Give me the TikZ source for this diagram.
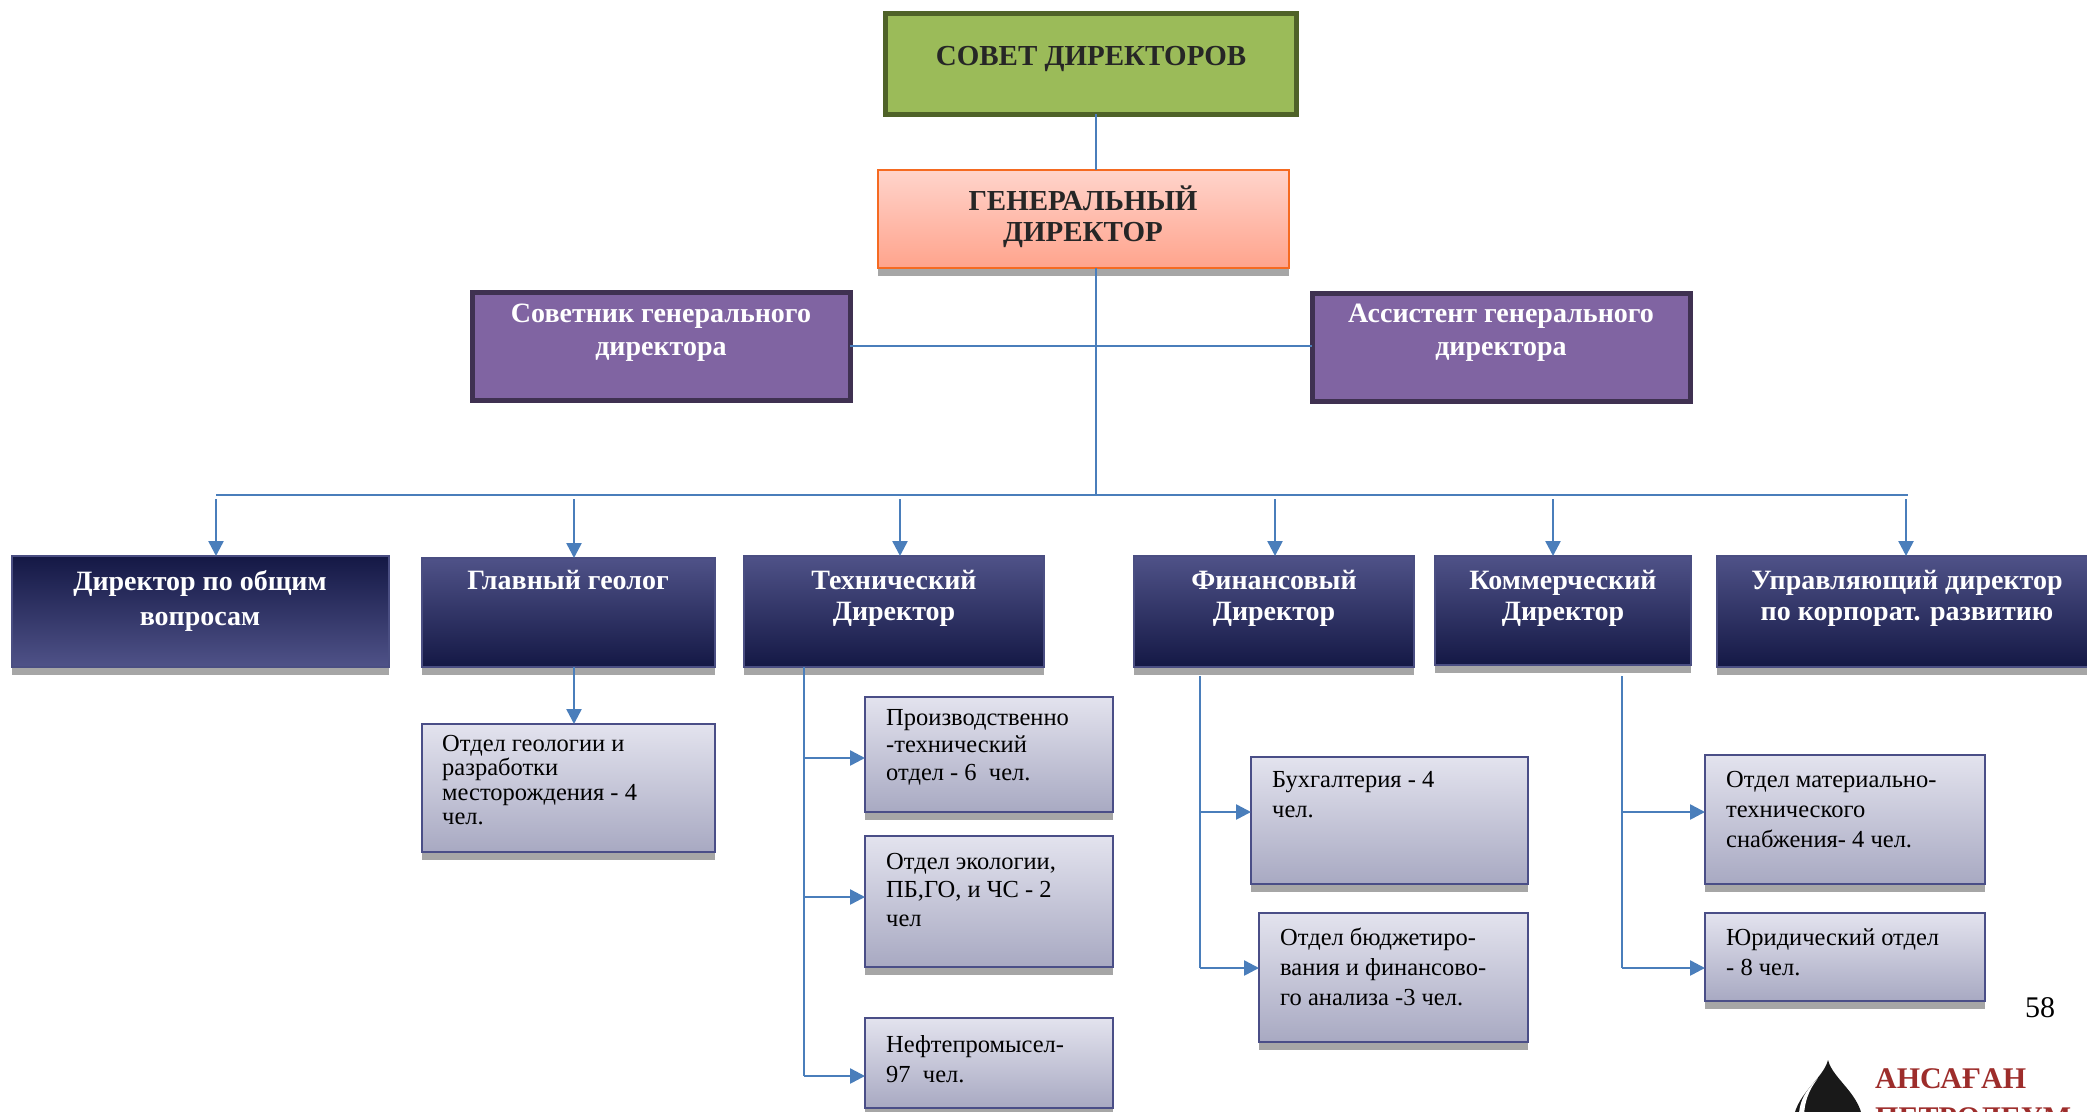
\documentclass[tikz,border=0pt]{standalone}
\usepackage{fontspec}
\setmainfont{Liberation Serif}
\usetikzlibrary{positioning,shadows,arrows.meta}
\definecolor{linkblue}{HTML}{4A7EBB}
\definecolor{shadowgray}{HTML}{A6A6A6}
\definecolor{boardfill}{HTML}{9BBB59}
\definecolor{boardline}{HTML}{4F6228}
\definecolor{ceotop}{HTML}{FFD4CB}
\definecolor{ceobottom}{HTML}{FFA38C}
\definecolor{ceoline}{HTML}{F56A21}
\definecolor{aidefill}{HTML}{8064A2}
\definecolor{aideline}{HTML}{3F3151}
\definecolor{headlight}{HTML}{4F5288}
\definecolor{headmid}{HTML}{232862}
\definecolor{headdark}{HTML}{141845}
\definecolor{headline}{HTML}{4A4E82}
\definecolor{depttop}{HTML}{E3E3EE}
\definecolor{deptbottom}{HTML}{A8A9C2}
\definecolor{deptline}{HTML}{4A4E87}
\definecolor{logored}{HTML}{9D2D2B}
\tikzset{
	plate/.style={draw,anchor=north west,inner sep=0pt,outer sep=0pt},
	shade down/.style={drop shadow={shadow xshift=0pt,shadow yshift=-8pt,opacity=1,fill=shadowgray}},
	boardbox/.style={plate,fill=boardfill,draw=boardline,line width=5pt},
	ceobox/.style={plate,shade down,top color=ceotop,bottom color=ceobottom,draw=ceoline,line width=2.5pt},
	aidebox/.style={plate,fill=aidefill,draw=aideline,line width=5pt},
	headbox/.style={plate,shade down,top color=headlight,middle color=headmid,bottom color=headdark,draw=headline,line width=1.5pt},
	headflip/.style={plate,shade down,top color=headdark,middle color=headmid,bottom color=headlight,draw=headline,line width=1.5pt},
	deptbox/.style={plate,shade down,top color=depttop,bottom color=deptbottom,draw=deptline,line width=2pt},
	boldlabel/.style={align=center,anchor=north,inner sep=0pt,font=\fontsize{29}{31}\selectfont\bfseries},
	headlabel/.style={boldlabel,text=white,font=\fontsize{28}{31}\selectfont\bfseries},
	deptlabel/.style={align=left,anchor=north west,inner sep=0pt,font=\fontsize{24.5}{30}\selectfont},
	logolabel/.style={anchor=base west,inner sep=0pt,text=logored,font=\fontsize{30}{30}\selectfont\bfseries},
	link/.style={draw=linkblue,line width=2.5pt},
	arrowlink/.style={link,-{Triangle[length=15pt,width=15pt]}}
}
\begin{document}
\begin{tikzpicture}[x=1pt,y=-1pt]
	\useasboundingbox (0,0) rectangle (2087,1111);
	\clip (0,0) rectangle (2087,1111);

	% top of the chart
	\node(board)[boardbox,minimum width=411pt,minimum height=101pt] at (885,13){};
	\node(ceo)[ceobox,minimum width=411pt,minimum height=98pt] at (878,170){};
	\node(advisor)[aidebox,minimum width=378pt,minimum height=108pt] at (472,292){};
	\node(assistant)[aidebox,minimum width=378pt,minimum height=108pt] at (1312,293){};
	\coordinate (trunk) at (1096,495);
	\coordinate (hleft) at (216,495);
	\coordinate (hright) at (1908,495);

	\path[link] (board.south -| trunk) -- (ceo.north -| trunk);
	\path[link] (ceo.south -| trunk) -- (trunk);
	\path[link] (advisor.east |- 0,346) -- (assistant.west |- 0,346);
	\path[link] (hleft) -- (hright);

	% directors
	\node(general)[headflip,minimum width=377pt,minimum height=111pt] at (12,556){};
	\node(geolog)[headbox,minimum width=293pt,minimum height=109pt] at (422,558){};
	\node(tech)[headbox,minimum width=300pt,minimum height=111pt] at (744,556){};
	\node(fin)[headbox,minimum width=280pt,minimum height=111pt] at (1134,556){};
	\node(comm)[headbox,minimum width=256pt,minimum height=109pt] at (1435,556){};
	\node(corp)[headbox,minimum width=372pt,minimum height=111pt] at (1717,556){};

	\foreach \n/\x in {general/216,geolog/574,tech/900,fin/1275,comm/1553,corp/1906}{
		\coordinate (top\n) at (\x,499);
		\path[arrowlink] (top\n) -- (top\n |- \n.north);
	}

	% departments
	\node(geodept)[deptbox,minimum width=293pt,minimum height=128pt] at (422,724){};
	\node(prod)[deptbox,minimum width=248pt,minimum height=115pt] at (865,697){};
	\node(ecol)[deptbox,minimum width=248pt,minimum height=131pt] at (865,836){};
	\node(field)[deptbox,minimum width=248pt,minimum height=90pt] at (865,1018){};
	\node(account)[deptbox,minimum width=277pt,minimum height=127pt] at (1251,757){};
	\node(budget)[deptbox,minimum width=269pt,minimum height=129pt] at (1259,913){};
	\node(supply)[deptbox,minimum width=280pt,minimum height=129pt] at (1705,755){};
	\node(legal)[deptbox,minimum width=280pt,minimum height=88pt] at (1705,913){};

	\coordinate (geotop) at (574,667);
	\path[arrowlink] (geotop) -- (geotop |- geodept.north);

	\coordinate (techtop) at (804,667);
	\coordinate (fintop) at (1200,676);
	\coordinate (commtop) at (1622,676);
	\path[link] (techtop) -- (804,1076);
	\path[link] (fintop) -- (1200,968);
	\path[link] (commtop) -- (1622,968);
	\foreach \a/\n/\y in {techtop/prod/758,techtop/ecol/897,techtop/field/1076,fintop/account/812,fintop/budget/968,commtop/supply/812,commtop/legal/968}{
		\path[arrowlink] (\a |- 0,\y) -- (\n.west |- 0,\y);
	}

	% texts
	\node(boardtxt)[boldlabel,text=black!85] at (1091,46){СОВЕТ ДИРЕКТОРОВ};
	\node(ceotxt)[boldlabel,text=black!85] at (1083,186){ГЕНЕРАЛЬНЫЙ\\ДИРЕКТОР};
	\node(advisortxt)[headlabel,font=\fontsize{28}{33}\selectfont\bfseries] at (661,304){Советник генерального\\директора};
	\node(assistanttxt)[headlabel,font=\fontsize{28}{33}\selectfont\bfseries] at (1501,304){Ассистент генерального\\директора};
	\node(generaltxt)[headlabel,font=\fontsize{28}{35}\selectfont\bfseries] at (200,570){Директор по общим\\вопросам};
	\node(geologtxt)[headlabel] at (568,570){Главный геолог};
	\node(techtxt)[headlabel] at (894,570){Технический\\Директор};
	\node(fintxt)[headlabel] at (1274,570){Финансовый\\Директор};
	\node(commtxt)[headlabel] at (1563,570){Коммерческий\\Директор};
	\node(corptxt)[headlabel] at (1907,570){Управляющий директор\\по корпорат. развитию};

	\node(geodepttxt)[deptlabel,font=\fontsize{24.5}{24.5}\selectfont] at (442,735){Отдел геологии и\\разработки\\месторождения - 4\\чел.};
	\node(prodtxt)[deptlabel,font=\fontsize{24.5}{27.5}\selectfont] at (886,709){Производственно\\-технический\\отдел - 6~~чел.};
	\node(ecoltxt)[deptlabel,font=\fontsize{24.5}{28.5}\selectfont] at (886,853){Отдел экологии,\\ПБ,ГО, и ЧС - 2\\чел};
	\node(fieldtxt)[deptlabel] at (886,1035){Нефтепромысел-\\97~~чел.};
	\node(accounttxt)[deptlabel] at (1272,771){Бухгалтерия - 4\\чел.};
	\node(budgettxt)[deptlabel] at (1280,928){Отдел бюджетиро-\\вания и финансово-\\го анализа -3 чел.};
	\node(supplytxt)[deptlabel] at (1726,771){Отдел материально-\\технического\\снабжения- 4 чел.};
	\node(legaltxt)[deptlabel] at (1726,929){Юридический отдел\\- 8 чел.};

	\node(pagenum)[inner sep=0pt,font=\fontsize{30}{30}\selectfont] at (2040,1008){58};

	% logo
	\fill[black!90] (1828,1060) .. controls (1833,1080) and (1863,1095) .. (1863,1125) -- (1793,1125) .. controls (1793,1095) and (1823,1080) .. (1828,1060);
	\fill[white] (1818,1078) .. controls (1807,1090) and (1797,1100) .. (1799,1125) -- (1804,1125) .. controls (1803,1102) and (1809,1090) .. (1818,1078);
	\node(logotop)[logolabel] at (1875,1088){АНСАҒАН};
	\node(logobot)[logolabel] at (1875,1127){ПЕТРОЛЕУМ};
\end{tikzpicture}
\end{document}
